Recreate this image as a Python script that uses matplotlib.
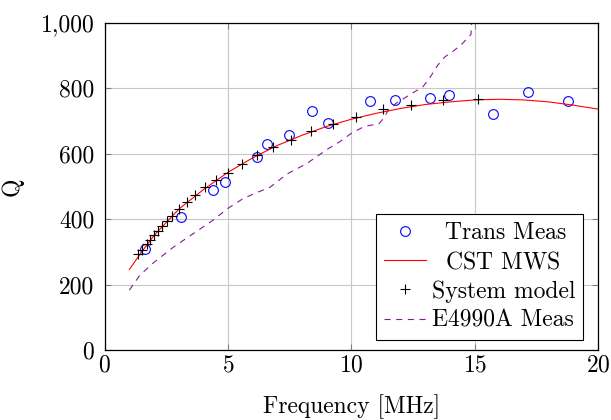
import matplotlib

matplotlib.use("Agg")
from matplotlib import pyplot as plt
from matplotlib.ticker import FuncFormatter

# Trans Meas (circles)
trans_f = [1.63, 3.09, 4.37, 4.88, 6.19, 6.59, 7.48, 8.39, 9.06, 10.77,
           11.78, 13.19, 13.97, 15.75, 17.18, 18.77]
trans_q = [310, 405, 489, 514, 589, 629, 656, 731, 695, 760,
           763, 769, 778, 721, 788, 760]

# CST MWS (solid red)
cst_f = [1.0, 1.5, 2.0, 3.0, 4.0, 5.0, 6.0, 7.0, 8.0, 9.0, 10.0,
         11.0, 12.0, 13.0, 14.0, 15.0, 16.0, 17.0, 18.0, 19.0, 20.0]
cst_q = [246, 300, 350, 430, 490, 543, 587, 625, 656, 683, 705,
         723, 738, 750, 758, 764, 766, 764, 758, 748, 736]

# System model (plus markers)
sys_f = [1.33, 1.50, 1.70, 1.83, 2.01, 2.17, 2.33, 2.51, 2.74, 3.02, 3.32,
         3.68, 4.08, 4.53, 5.00, 5.57, 6.19, 6.82, 7.54, 8.35, 9.25, 10.19,
         11.27, 12.43, 13.73, 15.13]
sys_q = [293, 305, 323, 336, 351, 364, 379, 393, 409, 430, 451,
         475, 497, 519, 541, 568, 595, 621, 643, 669, 691, 713,
         735, 750, 763, 768]

# E4990A Meas (dashed purple)
e4990_f = [1.0, 1.43, 2.0, 2.8, 3.6, 4.4, 5.0, 5.6, 6.2, 6.7, 7.4, 8.2,
           9.0, 9.5, 10.0, 10.5, 10.8, 11.1, 11.3, 11.5, 11.8, 12.35,
           12.9, 13.2, 13.5, 13.8, 14.1, 14.5, 14.85, 14.92]
e4990_q = [183, 229, 268, 315, 356, 397, 433, 462, 482, 497, 538, 570,
           612, 635, 662, 682, 687, 690, 707, 733, 753, 779,
           804, 834, 870, 896, 911, 936, 964, 1060]

plt.rcParams["font.family"] = "cmr10"
plt.rcParams["mathtext.fontset"] = "cm"
plt.rcParams["axes.formatter.use_mathtext"] = True
plt.rcParams["font.size"] = 17

fig = plt.figure(figsize=(6.11, 4.2), dpi=100)
ax = fig.add_axes([0.1714, 0.1667, 0.8073, 0.7793])

# leading spaces roughly centre the shorter labels like the original legend
ax.plot(trans_f, trans_q, "o", mfc="none", mec="blue", ms=7, mew=0.8,
        label=r" $\:$Trans Meas")
ax.plot(cst_f, cst_q, "-", color="red", lw=0.8, label=r" $\;$CST MWS")
ax.plot(sys_f, sys_q, "+", color="black", ms=7, mew=0.8,
        label="System model")
ax.plot(e4990_f, e4990_q, "--", color="#88189a", lw=0.8, dashes=(5.5, 5),
        label="E4990A Meas")

ax.set_xlim(0, 20)
ax.set_ylim(0, 1000)
ax.set_xticks([0, 5, 10, 15, 20])
ax.set_yticks([0, 200, 400, 600, 800, 1000])
ax.yaxis.set_major_formatter(FuncFormatter(lambda v, p: "{:,.0f}".format(v)))
ax.grid(True, color="#c8c8c8", lw=0.8)
ax.tick_params(direction="in", top=True, right=True, length=4,
               color="#808080")
ax.tick_params(axis="x", pad=3)
ax.tick_params(axis="y", pad=7.5)
for s in ax.spines.values():
    s.set_linewidth(0.9)

ax.set_xlabel("Frequency [MHz]", labelpad=13)
ax.set_ylabel("Q", labelpad=12)

leg = ax.legend(loc="lower right", bbox_to_anchor=(0.97, 0.03),
                fancybox=False, edgecolor="black", framealpha=1,
                borderpad=0.35, labelspacing=0.3, handlelength=1.75,
                handletextpad=0.25, borderaxespad=0)
leg.get_frame().set_linewidth(0.8)

fig.savefig("out.png", dpi=100)
